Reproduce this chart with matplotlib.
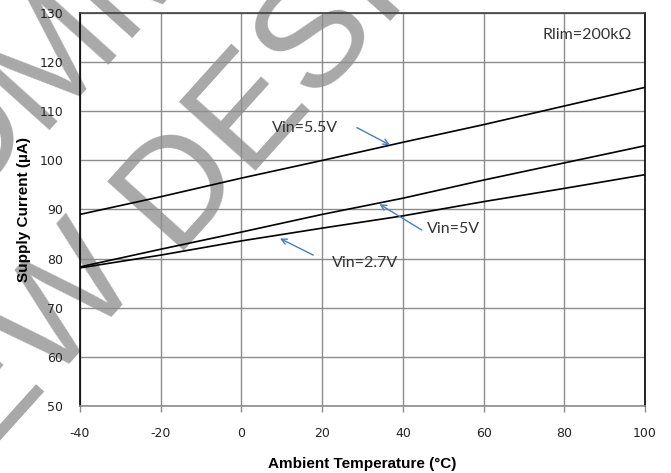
import numpy as np
import matplotlib
matplotlib.use("Agg")
import matplotlib.pyplot as plt

plt.rcParams["axes.unicode_minus"] = False

# data
temps = [-40, -20, 0, 20, 40, 60, 80, 100]
i_55 = [89.0, 92.6, 96.4, 100.0, 103.7, 107.3, 111.1, 114.9]
i_50 = [78.3, 81.9, 85.4, 89.0, 92.3, 96.0, 99.5, 103.0]
i_27 = [78.1, 80.7, 83.6, 86.2, 88.7, 91.6, 94.3, 97.1]

xticks = [-40, -20, 0, 20, 40, 60, 80, 100]
yticks = [50, 60, 70, 80, 90, 100, 110, 120, 130]

# label text, text position, arrow tail, arrow head (data units)
notes = [
    ("Vin=5.5V", (7.6, 106.7), (28.6, 106.7), (36.8, 103.15)),
    ("Vin=5V", (46.0, 86.1), (44.7, 85.8), (34.2, 91.1)),
    ("Vin=2.7V", (22.4, 79.0), (17.8, 80.7), (9.55, 84.1)),
]

fig = plt.figure(figsize=(6.71, 4.73), dpi=100)
ax = fig.add_axes([80 / 671, 1 - 405.7 / 473, 565 / 671, 392.4 / 473])
ax.set_facecolor("none")

for ys in (i_55, i_50, i_27):
    ax.plot(temps, ys, color="black", lw=1.2, zorder=3)

ax.set_xlim(-40, 100)
ax.set_ylim(50, 130)
ax.set_xticks(xticks)
ax.set_yticks(yticks)
ax.grid(True, color="#8c8c8c", lw=1.0, zorder=1)
ax.set_axisbelow(True)

ax.tick_params(axis="x", length=4.5, width=1, color="#8c8c8c", pad=11,
               labelsize=9)
ax.tick_params(axis="y", length=0, pad=12, labelsize=9)
for lab in ax.get_xticklabels() + ax.get_yticklabels():
    lab.set_fontfamily("DejaVu Sans")
    lab.set_color("#222222")

ax.spines["left"].set_color("black")
ax.spines["right"].set_color("black")
ax.spines["top"].set_color("#404040")
ax.spines["bottom"].set_color("#8c8c8c")
for s in ax.spines.values():
    s.set_linewidth(1.2)

ax.set_xlabel("Ambient Temperature (°C)", fontsize=11, fontweight="bold",
              family="Liberation Sans", labelpad=12)
ax.set_ylabel("Supply Current (µA)", fontsize=11, fontweight="bold",
              family="Liberation Sans", labelpad=6)

for txt, tpos, tail, head in notes:
    ax.text(tpos[0], tpos[1], txt, fontsize=11.5, family="Lato",
            color="#333333", ha="left", va="center", zorder=4)
    ax.annotate("", xy=head, xytext=tail,
                arrowprops=dict(arrowstyle="->", color="#4a7ebb", lw=1.0,
                                shrinkA=0, shrinkB=0), zorder=4)

ax.text(96.8, 125.6, "Rlim=200kΩ", fontsize=11.5, family="Lato",
        color="#333333", ha="right", va="center")

# watermark behind the axes
wm = dict(fontsize=108, family="Liberation Sans", color="#a8a8a8",
          rotation=48, rotation_mode="anchor", va="baseline", zorder=-1)
ang = np.deg2rad(48)
d_org = (172, 250)
up = (-np.sin(ang) * 180, -np.cos(ang) * 180)
m_org = (d_org[0] + up[0], d_org[1] + up[1])
fig.text(d_org[0] / 671, 1 - d_org[1] / 473, "FOR NEW ", ha="right", **wm)
fig.text(d_org[0] / 671, 1 - d_org[1] / 473, "DESIGN", ha="left", **wm)
fig.text(m_org[0] / 671, 1 - m_org[1] / 473, "NOT RECO", ha="right", **wm)
fig.text(m_org[0] / 671, 1 - m_org[1] / 473, "MMENDED", ha="left", **wm)

fig.savefig("out.png", dpi=100)
